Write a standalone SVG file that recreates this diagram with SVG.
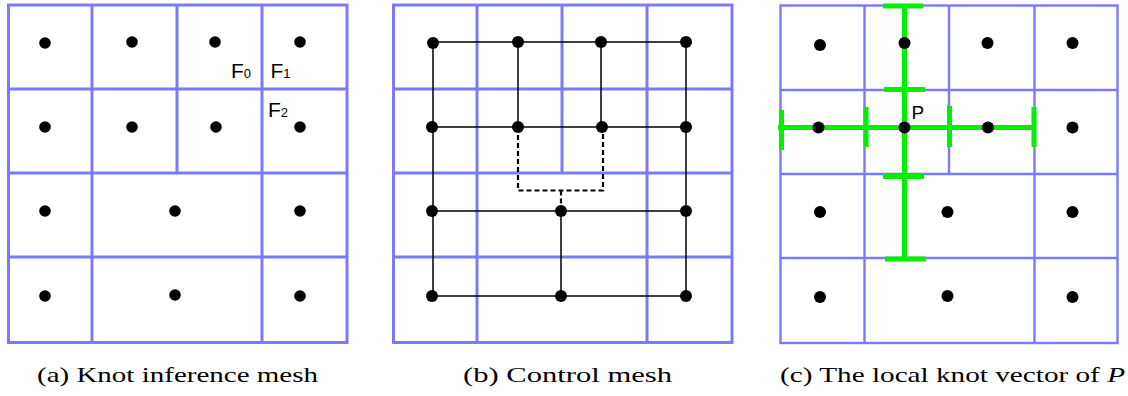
<svg xmlns="http://www.w3.org/2000/svg" width="1128" height="396" viewBox="0 0 1128 396">
<defs>
<style>
.grid{fill:none;stroke:#7a7aff;stroke-width:3}
.gridc{fill:none;stroke:#7a7aff;stroke-width:2.4}
.dot{fill:#000}
.edge{fill:none;stroke:#000;stroke-width:1.5}
.dash{fill:none;stroke:#000;stroke-width:2.2;stroke-dasharray:5,3}
.kv{fill:none;stroke:#00f000;stroke-width:5}
.lab{font-family:"Liberation Sans",Arial,sans-serif;fill:#000}
.cap{font-family:"Liberation Serif","DejaVu Serif",serif;font-size:21px;fill:#000}
</style>
</defs>
<rect width="1128" height="396" fill="#fff"/>

<!-- Panel (a) -->
<g id="panel-a">
  <g id="mesh-a">
    <rect class="grid" x="8.5" y="5" width="338.5" height="337.5"/>
    <path class="grid" d="M92 5V342.5M262 5V342.5M177 5V173M8.5 89H347M8.5 173H347M8.5 257H347"/>
  </g>
  <g id="a-n11"><circle class="dot" cx="45" cy="43" r="5.8"/></g>
  <g id="a-n12"><circle class="dot" cx="132" cy="42" r="5.8"/></g>
  <g id="a-n13"><circle class="dot" cx="215" cy="42" r="5.8"/></g>
  <g id="a-n14"><circle class="dot" cx="300" cy="42" r="5.8"/></g>
  <g id="a-n21"><circle class="dot" cx="45" cy="127" r="5.8"/></g>
  <g id="a-n22"><circle class="dot" cx="132" cy="127" r="5.8"/></g>
  <g id="a-n23"><circle class="dot" cx="216" cy="127" r="5.8"/></g>
  <g id="a-n24"><circle class="dot" cx="300" cy="127" r="5.8"/></g>
  <g id="a-n31"><circle class="dot" cx="45" cy="211" r="5.8"/></g>
  <g id="a-n32"><circle class="dot" cx="175" cy="211" r="5.8"/></g>
  <g id="a-n33"><circle class="dot" cx="300" cy="211" r="5.8"/></g>
  <g id="a-n41"><circle class="dot" cx="45" cy="296" r="5.8"/></g>
  <g id="a-n42"><circle class="dot" cx="175" cy="295" r="5.8"/></g>
  <g id="a-n43"><circle class="dot" cx="300" cy="296" r="5.8"/></g>
  <g id="a-labels">
    <text class="lab" x="231" y="78" font-size="21">F<tspan font-size="13">0</tspan></text>
    <text class="lab" x="270.5" y="78" font-size="21">F<tspan font-size="13">1</tspan></text>
    <text class="lab" x="268" y="116.5" font-size="21">F<tspan font-size="13">2</tspan></text>
  </g>
</g>

<!-- Panel (b) -->
<g id="panel-b">
  <g id="mesh-b">
    <rect class="grid" x="393.5" y="5" width="338.5" height="337.5"/>
    <path class="grid" d="M477 5V342.5M647 5V342.5M562 5V173M393.5 89H732M393.5 173H732M393.5 257H732"/>
  </g>
  <g id="connectors-b">
    <path class="edge" d="M433 42H686M432 127H686M432 211H686M432 296H686"/>
    <path class="edge" d="M433 42V296M518 42V127M601 42V127M686 42V296M561 211V296"/>
    <path class="dash" d="M518 127V190.5H603V127M561 190.5V211"/>
  </g>
  <g id="b-n11"><circle class="dot" cx="433" cy="43" r="6"/></g>
  <g id="b-n12"><circle class="dot" cx="518" cy="42" r="6"/></g>
  <g id="b-n13"><circle class="dot" cx="601" cy="42" r="6"/></g>
  <g id="b-n14"><circle class="dot" cx="686" cy="42" r="6"/></g>
  <g id="b-n21"><circle class="dot" cx="432" cy="127" r="6"/></g>
  <g id="b-n22"><circle class="dot" cx="518" cy="127" r="6"/></g>
  <g id="b-n23"><circle class="dot" cx="602" cy="127" r="6"/></g>
  <g id="b-n24"><circle class="dot" cx="686" cy="127" r="6"/></g>
  <g id="b-n31"><circle class="dot" cx="432" cy="211" r="6"/></g>
  <g id="b-n32"><circle class="dot" cx="561" cy="211" r="6"/></g>
  <g id="b-n33"><circle class="dot" cx="686" cy="211" r="6"/></g>
  <g id="b-n41"><circle class="dot" cx="432" cy="296" r="6"/></g>
  <g id="b-n42"><circle class="dot" cx="561" cy="296" r="6"/></g>
  <g id="b-n43"><circle class="dot" cx="686" cy="296" r="6"/></g>
</g>

<!-- Panel (c) -->
<g id="panel-c">
  <g id="mesh-c">
    <rect class="gridc" x="780.5" y="5.5" width="337" height="337.5"/>
    <path class="gridc" d="M864.5 5.5V343M1034.5 5.5V343M949 5.5V174M780.5 90H1117.5M780.5 174H1117.5M780.5 258H1117.5"/>
  </g>
  <g id="knot-vector">
    <path class="kv" d="M904.5 6V259M778 127.5H1034.5"/>
    <path class="kv" d="M883 6H923M884 89.5H925M883 176.5H924M885 259H926"/>
    <path class="kv" d="M781.5 110V150M866 107V147M949.5 106V147M1034 107V147"/>
  </g>
  <g id="c-n11"><circle class="dot" cx="820" cy="45" r="6"/></g>
  <g id="c-n12"><circle class="dot" cx="904.5" cy="43" r="6"/></g>
  <g id="c-n13"><circle class="dot" cx="987.5" cy="43" r="6"/></g>
  <g id="c-n14"><circle class="dot" cx="1072.5" cy="43" r="6"/></g>
  <g id="c-n21"><circle class="dot" cx="818.5" cy="127.5" r="6"/></g>
  <g id="c-P"><circle class="dot" cx="904.5" cy="127.5" r="6"/>
    <text class="lab" x="911.5" y="119" font-size="19">P</text></g>
  <g id="c-n23"><circle class="dot" cx="988" cy="127.5" r="6"/></g>
  <g id="c-n24"><circle class="dot" cx="1072.5" cy="127.5" r="6"/></g>
  <g id="c-n31"><circle class="dot" cx="820" cy="212" r="6"/></g>
  <g id="c-n32"><circle class="dot" cx="947.5" cy="212" r="6"/></g>
  <g id="c-n33"><circle class="dot" cx="1072.5" cy="212" r="6"/></g>
  <g id="c-n41"><circle class="dot" cx="820" cy="297" r="6"/></g>
  <g id="c-n42"><circle class="dot" cx="947.5" cy="296" r="6"/></g>
  <g id="c-n43"><circle class="dot" cx="1072.5" cy="297" r="6"/></g>
</g>

<!-- Captions -->
<g id="captions">
  <text class="cap" x="37" y="382" textLength="281" lengthAdjust="spacingAndGlyphs">(a) Knot inference mesh</text>
  <text class="cap" x="463" y="382" textLength="209" lengthAdjust="spacingAndGlyphs">(b) Control mesh</text>
  <text class="cap" x="780" y="382" textLength="345" lengthAdjust="spacingAndGlyphs">(c) The local knot vector of <tspan font-style="italic">P</tspan></text>
</g>
</svg>
